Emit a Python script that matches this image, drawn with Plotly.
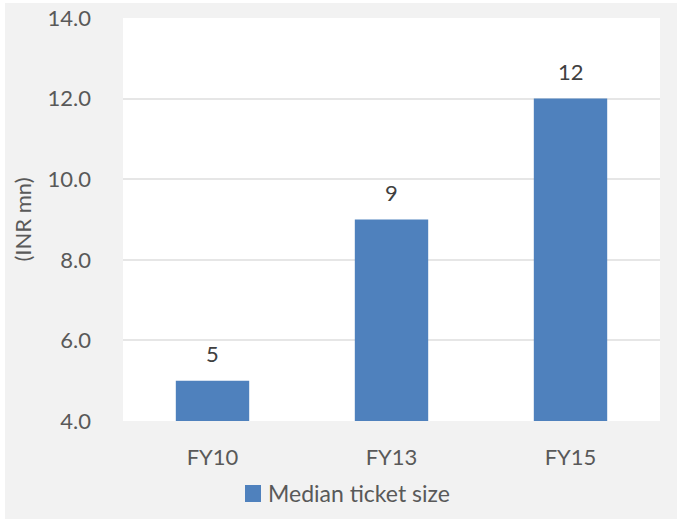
import plotly.graph_objects as go

categories = ["FY10", "FY13", "FY15"]
median_ticket = [5, 9, 12]
series_name = "Median ticket size"
y_title = "(INR mn)"

W, H = 677, 519
L, R, T, B = 123, 17, 18, 98
pw, ph = W - L - R, H - T - B

def px_x(p):
    return (p - L) / pw

def px_y(p):
    return (H - B - p) / ph

font_family = "Lato, 'Open Sans', sans-serif"
bar_color = "#4F81BD"
text_color = "#595959"

fig = go.Figure()
fig.add_trace(go.Bar(
    x=categories,
    y=median_ticket,
    name=series_name,
    marker=dict(color=bar_color, line=dict(width=0)),
    width=0.41,
    showlegend=False,
))

# value labels above each bar
annotations = [
    dict(x=c, y=v, xref="x", yref="y", text=str(v), showarrow=False,
         yanchor="bottom", yshift=12,
         font=dict(size=22, color="#404040", family=font_family))
    for c, v in zip(categories, median_ticket)
]
# legend entry text
annotations.append(dict(
    x=px_x(266), y=px_y(493), xref="paper", yref="paper",
    text=series_name, showarrow=False, xanchor="left", yanchor="middle",
    font=dict(size=23, color=text_color, family=font_family),
))

shapes = [
    # white strips along the top and left edges
    dict(type="rect", xref="paper", yref="paper",
         x0=px_x(0), x1=px_x(W), y0=px_y(3), y1=px_y(-5),
         line=dict(width=0), fillcolor="#FFFFFF", layer="above"),
    dict(type="rect", xref="paper", yref="paper",
         x0=px_x(-5), x1=px_x(5), y0=px_y(H + 5), y1=px_y(-5),
         line=dict(width=0), fillcolor="#FFFFFF", layer="above"),
    # legend swatch
    dict(type="rect", xref="paper", yref="paper",
         x0=px_x(245), x1=px_x(261), y0=px_y(502), y1=px_y(485),
         line=dict(width=0), fillcolor=bar_color, layer="above"),
]

fig.update_layout(
    width=W, height=H,
    margin=dict(l=L, r=R, t=T, b=B, autoexpand=False),
    paper_bgcolor="#F2F2F2",
    plot_bgcolor="#FFFFFF",
    font=dict(family=font_family, size=21, color=text_color),
    showlegend=False,
    xaxis=dict(
        automargin=False,
        showgrid=False, showline=False, zeroline=False,
        ticks="", ticklabelstandoff=21,
        tickfont=dict(size=22, color=text_color),
    ),
    yaxis=dict(
        automargin=False,
        range=[4, 14], dtick=2, tick0=4, tickformat=".1f",
        showgrid=True, gridcolor="#E6E6E6", gridwidth=1.5,
        zeroline=False, showline=False, ticks="",
        ticklabelstandoff=31,
        tickfont=dict(size=22, color=text_color),
        title=dict(text=y_title, font=dict(size=22, color=text_color), standoff=9),
    ),
    annotations=annotations,
    shapes=shapes,
)

fig.write_html("out.html")
